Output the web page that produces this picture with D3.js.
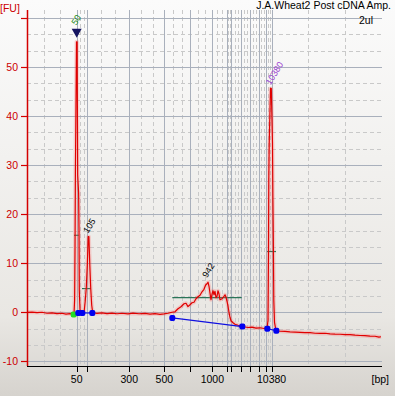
<!DOCTYPE html>
<html>
<head>
<meta charset="utf-8">
<script src="https://cdnjs.cloudflare.com/ajax/libs/d3/7.8.5/d3.min.js"></script>
<style>
  body { margin: 0; background: #fff; }
  svg { display: block; }
  text { font-family: 'Liberation Sans', Arial, sans-serif; }
</style>
</head>
<body>
<script>
// ladder sizes (bp) and their migration times (s)
const ladderBp   = [50, 100, 300, 500, 700, 1000, 1500, 2000, 3000, 4000, 5000, 7000, 10380];
const ladderTime = [34.0, 37.0, 48.8, 58.7, 66.0, 72.2, 76.25, 77.55, 80.4, 82.9, 85.4, 87.3, 88.9];
const labeledBp  = [50, 300, 500, 1000, 10380];
const timeRange  = [20, 120];
const fuTicks    = [-10, 0, 10, 20, 30, 40, 50, 60];

// electropherogram trace: time (s), fluorescence (FU)
const traceTime = [20.0, 21.41, 22.82, 24.23, 25.63, 27.04, 28.45, 29.86, 30.99, 32.11, 32.96, 33.24,
  33.41, 33.52, 33.63, 33.94, 34.11, 34.28, 34.54, 34.65, 34.73, 34.93, 35.21, 35.77, 36.11,
  36.42, 36.71, 36.99, 37.24, 37.44, 37.69, 37.95, 38.23, 38.51,
  39.72, 41.13, 42.54, 43.94, 45.35, 46.76, 48.45, 49.86, 51.55, 53.24, 54.65, 56.06, 57.47, 58.59, 59.72, 60.85,
  61.69, 62.54, 63.38, 64.23, 64.79, 65.35, 65.92, 66.48, 67.04, 67.61, 68.17, 68.73, 69.30, 69.86, 70.28,
  70.70, 70.99, 71.27, 71.55, 71.83, 72.11, 72.40, 72.68, 72.96, 73.24, 73.52, 73.80, 74.08, 74.37, 74.93,
  75.49, 75.78, 76.06, 76.34, 76.62, 76.90, 77.18, 77.47, 78.03, 78.59, 79.44, 80.28, 81.13, 82.25, 83.38,
  84.51, 85.63, 86.76, 87.61,
  87.89, 88.03, 88.11, 88.23, 88.59, 88.82, 89.15, 89.27, 89.38, 89.52, 89.72, 90.14,
  91.27, 92.68, 94.08, 95.49, 96.90, 98.31, 99.72, 101.13, 102.54, 103.96, 105.37, 106.77, 108.17,
  109.59, 111.0, 112.41, 113.80, 115.21, 116.62, 118.03, 119.16, 119.72];
const traceFU = [0.01, 0.05, -0.05, 0.01, -0.19, -0.11, -0.25, -0.19, -0.35, -0.27, -0.44, -0.46,
  2.46, 12.66, 27.95, 55.13, 55.13, 27.95, 24.28, 16.73, 4.5, 0.62, -0.13, -0.13, 0.22,
  2.46, 5.11, 9.60, 15.41, 15.41, 9.60, 4.91, 1.44, -0.09,
  -0.23, -0.11, -0.27, -0.15, -0.29, -0.19, -0.31, -0.17, -0.29, -0.23, -0.38, -0.25, -0.40, -0.31, -0.19, 0.01,
  0.11, 0.72, 1.13, 1.75, 1.85, 1.17, 1.54, 1.95, 2.05, 2.77, 3.17, 3.48, 4.19, 4.70, 5.52,
  5.82, 6.13, 5.31, 3.89, 2.56, 3.68, 4.40, 3.58, 4.29, 2.97, 3.27, 4.40, 3.78, 2.56, 2.77,
  3.27, 3.58, 3.07, 2.26, 1.24, 0.01, -1.01, -1.72, -2.13, -2.43, -2.64, -2.80, -2.94, -3.09, -3.01,
  -3.21, -3.15, -3.29, -3.31,
  -1.62, 12.66, 26.93, 34.47, 45.63, 45.63, 34.47, 22.85, 15.30, 2.46, -2.03, -3.71,
  -3.86, -3.90, -3.98, -4.03, -4.07, -4.15, -4.13, -4.27, -4.31, -4.27, -4.39, -4.45, -4.47,
  -4.56, -4.54, -4.66, -4.72, -4.76, -4.86, -4.88, -5.04, -4.98];

// peak labels
const peakNames = ["50", "105", "942", "10380"];
const peakTime  = [34.0, 37.34, 70.85, 88.7];
const peakFU    = [55.13, 15.41, 6.13, 45.63];

// peak start/end markers
const startMarker = [33.16, -0.45];
const markerTime = [34.45, 35.58, 38.40, 60.93, 80.65, 87.69, 90.23];
const markerFU   = [-0.13, -0.13, -0.13, -1.15, -2.91, -3.34, -3.74];
const markerLinks = [[0, 2], [3, 4], [5, 6]];

// peak width bars: from, to (s), level (FU)
const barFrom  = [33.24, 35.49, 87.61, 60.93];
const barTo    = [34.56, 38.03, 90.14, 80.48];
const barLevel = [15.7, 4.84, 12.39, 3.0];

const W = 395, H = 396;
const pLeft = 27, pRight = 382, pTop = 10, pBottom = 366;

const svg = d3.select('body').append('svg').attr('width', W).attr('height', H);

const defs = svg.append('defs');
const grad = defs.append('linearGradient')
  .attr('id', 'bg').attr('x1', 0).attr('y1', 0).attr('x2', 0).attr('y2', 1);
grad.append('stop').attr('offset', '0%').attr('stop-color', '#fbfbfb');
grad.append('stop').attr('offset', '80%').attr('stop-color', '#e9e7e3');
grad.append('stop').attr('offset', '100%').attr('stop-color', '#d6d3ce');
defs.append('clipPath').attr('id', 'clip')
  .append('rect').attr('x', pLeft).attr('y', pTop).attr('width', pRight - pLeft).attr('height', pBottom - pTop);

svg.append('rect').attr('width', W).attr('height', H).attr('fill', 'url(#bg)');

const x = d3.scaleLinear().domain(timeRange).range([pLeft, pRight]);
const y = d3.scaleLinear().domain([-10.94, 61.62]).range([pBottom, pTop]);

// grid
const grid = svg.append('g');
const stops = [timeRange[0], ...ladderTime, timeRange[1]];
const minorX = [];
for (let i = 0; i < stops.length - 1; i++) {
  const a = stops[i], b = stops[i + 1];
  minorX.push(a + (b - a) / 3, a + 2 * (b - a) / 3);
}
const minorY = [];
for (let i = 0; i < fuTicks.length - 1; i++) {
  const a = fuTicks[i], b = fuTicks[i + 1];
  minorY.push(a + (b - a) / 3, a + 2 * (b - a) / 3);
}
grid.selectAll('.mx').data(minorX).join('line')
  .attr('x1', d => Math.round(x(d)) + 0.5).attr('x2', d => Math.round(x(d)) + 0.5)
  .attr('y1', pTop).attr('y2', pBottom)
  .attr('stroke', '#c9c9c9').attr('stroke-dasharray', '4,3');
grid.selectAll('.my').data(minorY).join('line')
  .attr('y1', d => Math.round(y(d)) + 0.5).attr('y2', d => Math.round(y(d)) + 0.5)
  .attr('x1', pLeft).attr('x2', pRight)
  .attr('stroke', '#c9c9c9').attr('stroke-dasharray', '4,3');
grid.selectAll('.gx').data(ladderTime).join('line')
  .attr('x1', d => Math.round(x(d)) + 0.5).attr('x2', d => Math.round(x(d)) + 0.5)
  .attr('y1', pTop).attr('y2', pBottom)
  .attr('stroke', '#a9b0bc');
grid.selectAll('.gy').data(fuTicks).join('line')
  .attr('y1', d => Math.round(y(d)) + 0.5).attr('y2', d => Math.round(y(d)) + 0.5)
  .attr('x1', pLeft).attr('x2', pRight)
  .attr('stroke', '#a9b0bc');

// title
svg.append('text').attr('x', 391).attr('y', 9).attr('text-anchor', 'end')
  .attr('font-size', '10.5px').attr('fill', '#000').text('J.A.Wheat2 Post cDNA Amp.');
svg.append('text').attr('x', 373).attr('y', 24).attr('text-anchor', 'end')
  .attr('font-size', '10.5px').attr('fill', '#000').text('2ul');

// trace
const plot = svg.append('g').attr('clip-path', 'url(#clip)');
const trace = traceTime.map((t, i) => [t, traceFU[i]]);
const line = d3.line().x(d => x(d[0])).y(d => y(d[1]));

// width bars
plot.selectAll('.bar').data(barLevel).join('line')
  .attr('x1', (d, i) => x(barFrom[i])).attr('x2', (d, i) => x(barTo[i]))
  .attr('y1', d => y(d)).attr('y2', d => y(d))
  .attr('stroke', '#2a7558').attr('stroke-width', 1.2);

plot.append('path').datum(trace).attr('d', line)
  .attr('fill', 'none').attr('stroke', '#ff5050').attr('stroke-opacity', 0.22)
  .attr('stroke-width', 4).attr('stroke-linejoin', 'round');
plot.append('path').datum(trace).attr('d', line)
  .attr('fill', 'none').attr('stroke', '#e00000').attr('stroke-width', 1.2)
  .attr('stroke-linejoin', 'round');

// marker baselines
plot.selectAll('.link').data(markerLinks).join('line')
  .attr('x1', d => x(markerTime[d[0]])).attr('y1', d => y(markerFU[d[0]]))
  .attr('x2', d => x(markerTime[d[1]])).attr('y2', d => y(markerFU[d[1]]))
  .attr('stroke', '#1010e0').attr('stroke-width', 1.2);
plot.append('rect')
  .attr('x', x(startMarker[0]) - 3).attr('y', y(startMarker[1]) - 3)
  .attr('width', 6).attr('height', 6).attr('rx', 2).attr('fill', '#22dd22');
plot.selectAll('.mk').data(markerTime).join('rect')
  .attr('x', d => x(d) - 3).attr('y', (d, i) => y(markerFU[i]) - 3)
  .attr('width', 6).attr('height', 6).attr('rx', 2).attr('fill', '#0000f0');

// ladder marker triangle on first peak
const tx = x(peakTime[0]), ty = y(peakFU[0]);
svg.append('path')
  .attr('d', `M${tx - 5},${ty - 13}L${tx + 5},${ty - 13}L${tx},${ty - 4}Z`)
  .attr('fill', '#141460');

// peak labels
const labelColor = ['#1a8a1a', '#000', '#000', '#9a3fd0'];
const labelLift = [16, 3, 4, 3];
svg.selectAll('.pl').data(peakNames).join('text')
  .attr('transform', (d, i) => `translate(${x(peakTime[i]) - 0.5},${y(peakFU[i]) - labelLift[i]}) rotate(-58)`)
  .attr('font-size', '9px').attr('fill', (d, i) => labelColor[i])
  .text(d => d);

// y axis
svg.append('line').attr('x1', pLeft + 0.5).attr('x2', pLeft + 0.5).attr('y1', pTop).attr('y2', pBottom)
  .attr('stroke', '#d40000').attr('stroke-width', 1.5);
svg.selectAll('.yt').data(fuTicks).join('line')
  .attr('x1', pLeft - 6).attr('x2', pLeft)
  .attr('y1', d => Math.round(y(d)) + 0.5).attr('y2', d => Math.round(y(d)) + 0.5)
  .attr('stroke', '#d40000').attr('stroke-width', 1.2);
svg.selectAll('.yl').data(fuTicks.filter(d => d < 60)).join('text')
  .attr('x', 18).attr('y', d => y(d)).attr('dy', '0.35em')
  .attr('text-anchor', 'end').attr('font-size', '10.5px').attr('fill', '#cc0000')
  .text(d => d);
svg.append('text').attr('x', 0).attr('y', 12).attr('font-size', '10.5px')
  .attr('fill', '#cc0000').text('[FU]');

// x axis
svg.append('line').attr('x1', pLeft).attr('x2', pRight).attr('y1', pBottom + 0.5).attr('y2', pBottom + 0.5)
  .attr('stroke', '#000');
svg.selectAll('.xt').data(ladderTime).join('line')
  .attr('x1', d => Math.round(x(d)) + 0.5).attr('x2', d => Math.round(x(d)) + 0.5)
  .attr('y1', pBottom).attr('y2', pBottom + 6)
  .attr('stroke', '#000');
svg.selectAll('.xl').data(labeledBp).join('text')
  .attr('x', d => x(ladderTime[ladderBp.indexOf(d)]))
  .attr('y', 383).attr('text-anchor', 'middle').attr('font-size', '10.5px').attr('fill', '#000')
  .text(d => d);
svg.append('text').attr('x', 389).attr('y', 383).attr('text-anchor', 'end')
  .attr('font-size', '10.5px').attr('fill', '#000').text('[bp]');
</script>
</body>
</html>
